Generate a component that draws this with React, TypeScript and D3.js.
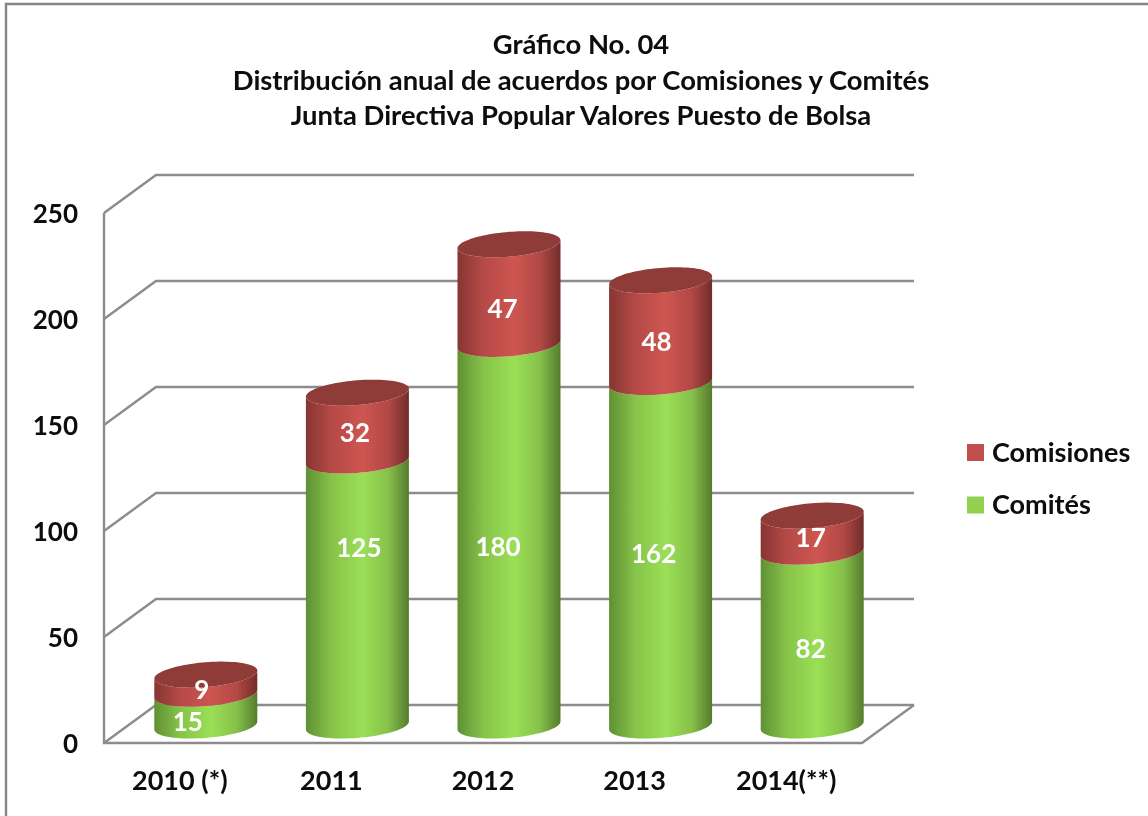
import React from "react";
import * as d3 from "d3";

const categories = ["2010 (*)", "2011", "2012", "2013", "2014(**)"];
const comites = [15, 125, 180, 162, 82];
const comisiones = [9, 32, 47, 48, 17];
const yTicks = [0, 50, 100, 150, 200, 250];
const titleLines = [
  "Gráfico No. 04",
  "Distribución anual de acuerdos por Comisiones y Comités",
  "Junta Directiva Popular Valores Puesto de Bolsa",
];
const legendItems = [
  { name: "Comisiones", color: "#C0504D" },
  { name: "Comités", color: "#92D050" },
];

// hand-placed data label nudges relative to each segment's centre (layout, not data)
const comitesNudge = [[-18, 12], [1.5, -45], [-11, 12], [-7, 0], [-1.5, 10]];
const comisionesNudge = [[-4, 6], [-2.5, 6], [-6.5, 15], [-4, 11], [-1.5, 4]];

const FONT = "Lato, Carlito, sans-serif";
const W = 1148, H = 816;
const depthX = 52, depthY = 38;
const frontLeft = 104, frontRight = 862;
const yBack = d3.scaleLinear().domain([0, 250]).range([705, 175]);
const yFront = (v: number) => yBack(v) + depthY;
const yMid = (v: number) => yBack(v) + 20.5;
const xFront = d3.scaleBand<string>().domain(categories).range([frontLeft, frontRight]);
const barCx = (c: string) => xFront(c)! + xFront.bandwidth() / 2 + 26;

const a = 51.5, b = 12.4, skew = 4;
const arcPoint = (cx: number, cy: number, t: number): [number, number] => [
  cx + a * Math.cos(t),
  cy + b * Math.sin(t) - skew * Math.cos(t),
];
const line = d3.line<[number, number]>();
const steps = d3.range(0, 49).map((i) => (i / 48) * Math.PI);
const ellipsePath = (cx: number, cy: number) =>
  line(d3.range(0, 97).map((i) => arcPoint(cx, cy, (i / 96) * 2 * Math.PI)))! + "Z";
const bodyPath = (cx: number, y0: number, y1: number) => {
  const lower = steps.map((t) => arcPoint(cx, y0, Math.PI - t));
  const upper = steps.map((t) => arcPoint(cx, y1, t));
  return line([...lower, ...upper])! + "Z";
};

const gradientStops = (dark1: string, mid: string, dark2: string) => (
  <>
    <stop offset="0" stopColor={dark1} />
    <stop offset="0.25" stopColor={d3.interpolateRgb(dark1, mid)(0.65)} />
    <stop offset="0.55" stopColor={mid} />
    <stop offset="0.8" stopColor={d3.interpolateRgb(dark2, mid)(0.7)} />
    <stop offset="1" stopColor={dark2} />
  </>
);

export default function App() {
  const totals = comites.map((v, i) => v + comisiones[i]);
  return (
    <svg
      width={W}
      height={H}
      viewBox={`0 0 ${W} ${H}`}
      style={{ position: "fixed", left: 0, top: 0, display: "block", background: "#fff" }}
      fontFamily={FONT}
      fontWeight={700}
    >
      <defs>
        <linearGradient id="green" x1="0" x2="1" y1="0" y2="0">
          {gradientStops("#5f9033", "#9BDF56", "#557c2d")}
        </linearGradient>
        <linearGradient id="red" x1="0" x2="1" y1="0" y2="0">
          {gradientStops("#863532", "#CE5551", "#722c2a")}
        </linearGradient>
        <filter id="soft" x="0" y="0" width="1" height="1" filterUnits="objectBoundingBox">
          <feGaussianBlur stdDeviation="0.5" />
        </filter>
      </defs>

      <g filter="url(#soft)">
        <rect width={W} height={H} fill="#fff" />
        <path d={`M6,${H}V4H${W}`} fill="none" stroke="#868686" strokeWidth={2.4} />

        {titleLines.map((t, i) => (
          <text key={t} x={581} y={[44, 80, 115][i]} dy="0.35em" textAnchor="middle" fontSize={27.4} fill="#0b0b0b">
            {t}
          </text>
        ))}

        <g fill="none" stroke="#8c8c8c" strokeWidth={2.4}>
          {yTicks.map((v) => (
            <path
              key={v}
              d={`M${frontLeft},${yFront(v)}L${frontLeft + depthX},${yBack(v)}H${frontRight + depthX}`}
            />
          ))}
          <path d={`M${frontLeft},${yFront(250)}V${yFront(0)}H${frontRight}L${frontRight + depthX},${yBack(0)}`} />
        </g>

        {yTicks.map((v) => (
          <text key={v} x={78} y={yFront(v) + 1} dy="0.35em" textAnchor="end" fontSize={26} fill="#0b0b0b">
            {v}
          </text>
        ))}
        {categories.map((c) => (
          <text key={c} x={xFront(c)! + xFront.bandwidth() / 2} y={781} dy="0.35em" textAnchor="middle" fontSize={27} fill="#0b0b0b">
            {c}
          </text>
        ))}

        {categories.map((c, i) => {
          const cx = barCx(c);
          const y0 = yMid(0), y1 = yMid(comites[i]), y2 = yMid(totals[i]);
          return (
            <g key={c}>
              <path d={bodyPath(cx, y0, y1)} fill="url(#green)" />
              <path d={bodyPath(cx, y1, y2)} fill="url(#red)" />
              <path d={ellipsePath(cx, y2)} fill="#8F3A38" />
              <text
                x={cx + comitesNudge[i][0]}
                y={(y0 + y1) / 2 + comitesNudge[i][1]}
                dy="0.35em" textAnchor="middle" fontSize={26} fill="#fff"
              >
                {comites[i]}
              </text>
              <text
                x={cx + comisionesNudge[i][0]}
                y={(y1 + y2) / 2 + comisionesNudge[i][1]}
                dy="0.35em" textAnchor="middle" fontSize={26} fill="#fff"
              >
                {comisiones[i]}
              </text>
            </g>
          );
        })}

        {legendItems.map((l, i) => (
          <g key={l.name} transform={`translate(967,${444 + i * 52.5})`}>
            <rect width={17} height={17} fill={l.color} />
            <text x={25} y={8.5} dy="0.35em" fontSize={27} fill="#0b0b0b">
              {l.name}
            </text>
          </g>
        ))}
      </g>
    </svg>
  );
}
